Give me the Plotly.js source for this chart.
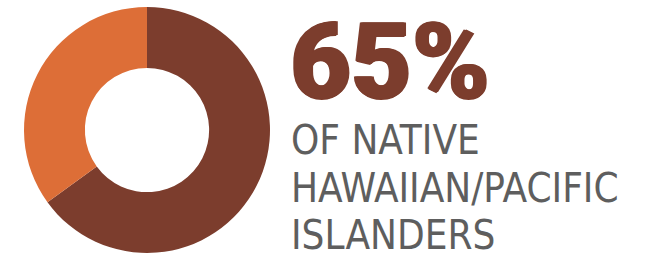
<!DOCTYPE html>
<html>
<head>
<meta charset="utf-8">
<script src="https://cdn.plot.ly/plotly-3.0.1.min.js"></script>
<style>html,body{margin:0;padding:0;background:#fff;}#chart{width:654px;height:261px;}</style>
</head>
<body>
<div id="chart"></div>
<script>
const categories = ["Native Hawaiian/Pacific Islanders", "Other"];
const values = [65, 35];
const colors = ["#7C3D2D", "#DD6E37"];
const headline = "65%";
const captionLines = ["OF NATIVE", "HAWAIIAN/PACIFIC", "ISLANDERS"];

const W = 654, H = 261;
const px = x => x / W;
const py = y => 1 - y / H;

const annotations = [
  {text: headline, x: px(288), y: py(62), xref: "paper", yref: "paper",
   xanchor: "left", yanchor: "middle", showarrow: false, height: 94, valign: "middle",
   font: {family: "Roboto, 'Liberation Sans', sans-serif", size: 105, color: colors[0], weight: 900,
          shadow: "1.5px 0px 0px #7C3D2D, -1px 0px 0px #7C3D2D, 0px 1px 0px #7C3D2D"}}
];
const lineY = [140, 187.5, 234.5];
captionLines.forEach((t, i) => annotations.push({
  text: t, x: px(289), y: py(lineY[i]), xref: "paper", yref: "paper",
  xanchor: "left", yanchor: "middle", showarrow: false,
  font: {family: "'DejaVu Sans Condensed', sans-serif", size: 40, color: "#5E5E5E"}
}));

Plotly.newPlot("chart", [{
  type: "pie",
  labels: categories,
  values: values,
  hole: 0.505,
  sort: false,
  direction: "clockwise",
  rotation: 0,
  textinfo: "none",
  hoverinfo: "label+percent",
  marker: {colors: colors, line: {width: 0}},
  domain: {x: [px(24), px(270)], y: [py(253), py(7)]},
  showlegend: false
}], {
  width: W, height: H,
  margin: {l: 0, r: 0, t: 0, b: 0},
  paper_bgcolor: "#fff",
  annotations: annotations
}, {displayModeBar: false, staticPlot: true});
</script>
</body>
</html>
